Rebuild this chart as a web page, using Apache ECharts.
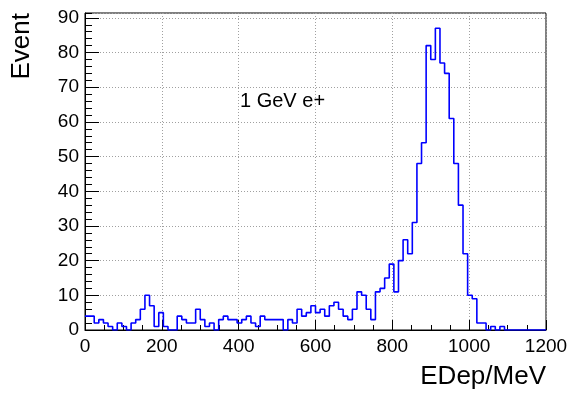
<!DOCTYPE html>
<html><head><meta charset="utf-8">
<script src="https://cdn.jsdelivr.net/npm/echarts@6/dist/echarts.min.js"></script>
<style>html,body{margin:0;padding:0;background:#fff}#c{width:577px;height:396px}</style>
</head><body><div id="c"></div>
<script>
// Histogram: 100 bins of 12 MeV from 0 to 1200 MeV
const binStart = 0;
const binWidth = 12;
const counts = [
  4,4,2,3,2,1,0,2,1,0,
  2,3,6,10,7,1,5,1,0,0,
  4,3,2,2,6,3,1,2,0,3,
  4,3,3,2,3,4,2,1,4,3,
  3,3,3,0,3,2,6,4,5,7,
  5,6,4,7,8,6,4,3,6,11,
  10,6,3,11,12,15,19,11,20,26,
  22,31,48,54,82,78,87,77,74,61,
  48,36,22,10,9,2,2,0,1,0,
  1,0,0,0,0,0,0,0,0,0
];
const xTicks = [0,200,400,600,800,1000,1200];
const yTicks = [0,10,20,30,40,50,60,70,80,90];
const xTitle = 'EDep/MeV';
const yTitle = 'Event';
const label = '1 GeV e+';
const yMax = 91.4;

const pts = counts.map((v,i)=>[binStart + i*binWidth, v]);
pts.push([binStart + counts.length*binWidth, counts[counts.length-1]]);

const FONT = 'Liberation Sans, Arial, Helvetica, sans-serif';
const chart = echarts.init(document.getElementById('c'), null, {renderer:'canvas'});
chart.setOption({
  animation:false,
  backgroundColor:'#fff',
  grid:{left:85,right:31,top:13,bottom:66,show:true,borderColor:'#000',borderWidth:1,backgroundColor:'transparent'},
  xAxis:{
    type:'value', min:xTicks[0], max:xTicks[xTicks.length-1], interval:200,
    axisLine:{lineStyle:{color:'#000',width:1}},
    axisTick:{inside:true,length:10,lineStyle:{color:'#000'}},
    minorTick:{show:true,splitNumber:4,length:5,lineStyle:{color:'#000'}},
    splitLine:{show:true,lineStyle:{color:'#a0a0a0',type:[1,2],width:1}},
    axisLabel:{fontSize:19,color:'#000',margin:7,fontFamily:FONT,
      formatter:v=>xTicks.indexOf(v)>=0?String(v):''},
    name:xTitle, nameLocation:'end', nameGap:0,
    nameTextStyle:{fontSize:26,color:'#000',fontFamily:FONT,align:'right',verticalAlign:'top',padding:[34,0,0,0]}
  },
  yAxis:[{
    type:'value', min:0, max:yMax, interval:10,
    axisLine:{show:true,lineStyle:{color:'#000',width:1}},
    axisTick:{show:true,inside:true,length:14,lineStyle:{color:'#000'}},
    splitLine:{show:true,lineStyle:{color:'#a0a0a0',type:[1,2],width:1}},
    axisLabel:{fontSize:19,color:'#000',margin:6,fontFamily:FONT,showMaxLabel:false,
      formatter:v=>yTicks.indexOf(v)>=0?String(v):''},
    name:yTitle, nameLocation:'end', nameGap:0, nameRotate:90,
    nameTextStyle:{fontSize:26,color:'#000',fontFamily:FONT,align:'right',verticalAlign:'bottom',padding:[0,0,50,0]}
  },{
    type:'value', min:0, max:yMax, interval:2, position:'left', offset:0,
    axisLine:{show:false}, axisLabel:{show:false}, splitLine:{show:false},
    axisTick:{show:true,inside:true,length:7,lineStyle:{color:'#000'}}
  }],
  graphic:[{type:'text',left:240,top:91,style:{text:label,fontSize:20,fill:'#000',fontFamily:FONT}}],
  series:[{
    type:'line', step:'end', data:pts, symbol:'none', yAxisIndex:0,
    lineStyle:{color:'#0000ff',width:1.6}, clip:true
  }]
});
</script></body></html>
